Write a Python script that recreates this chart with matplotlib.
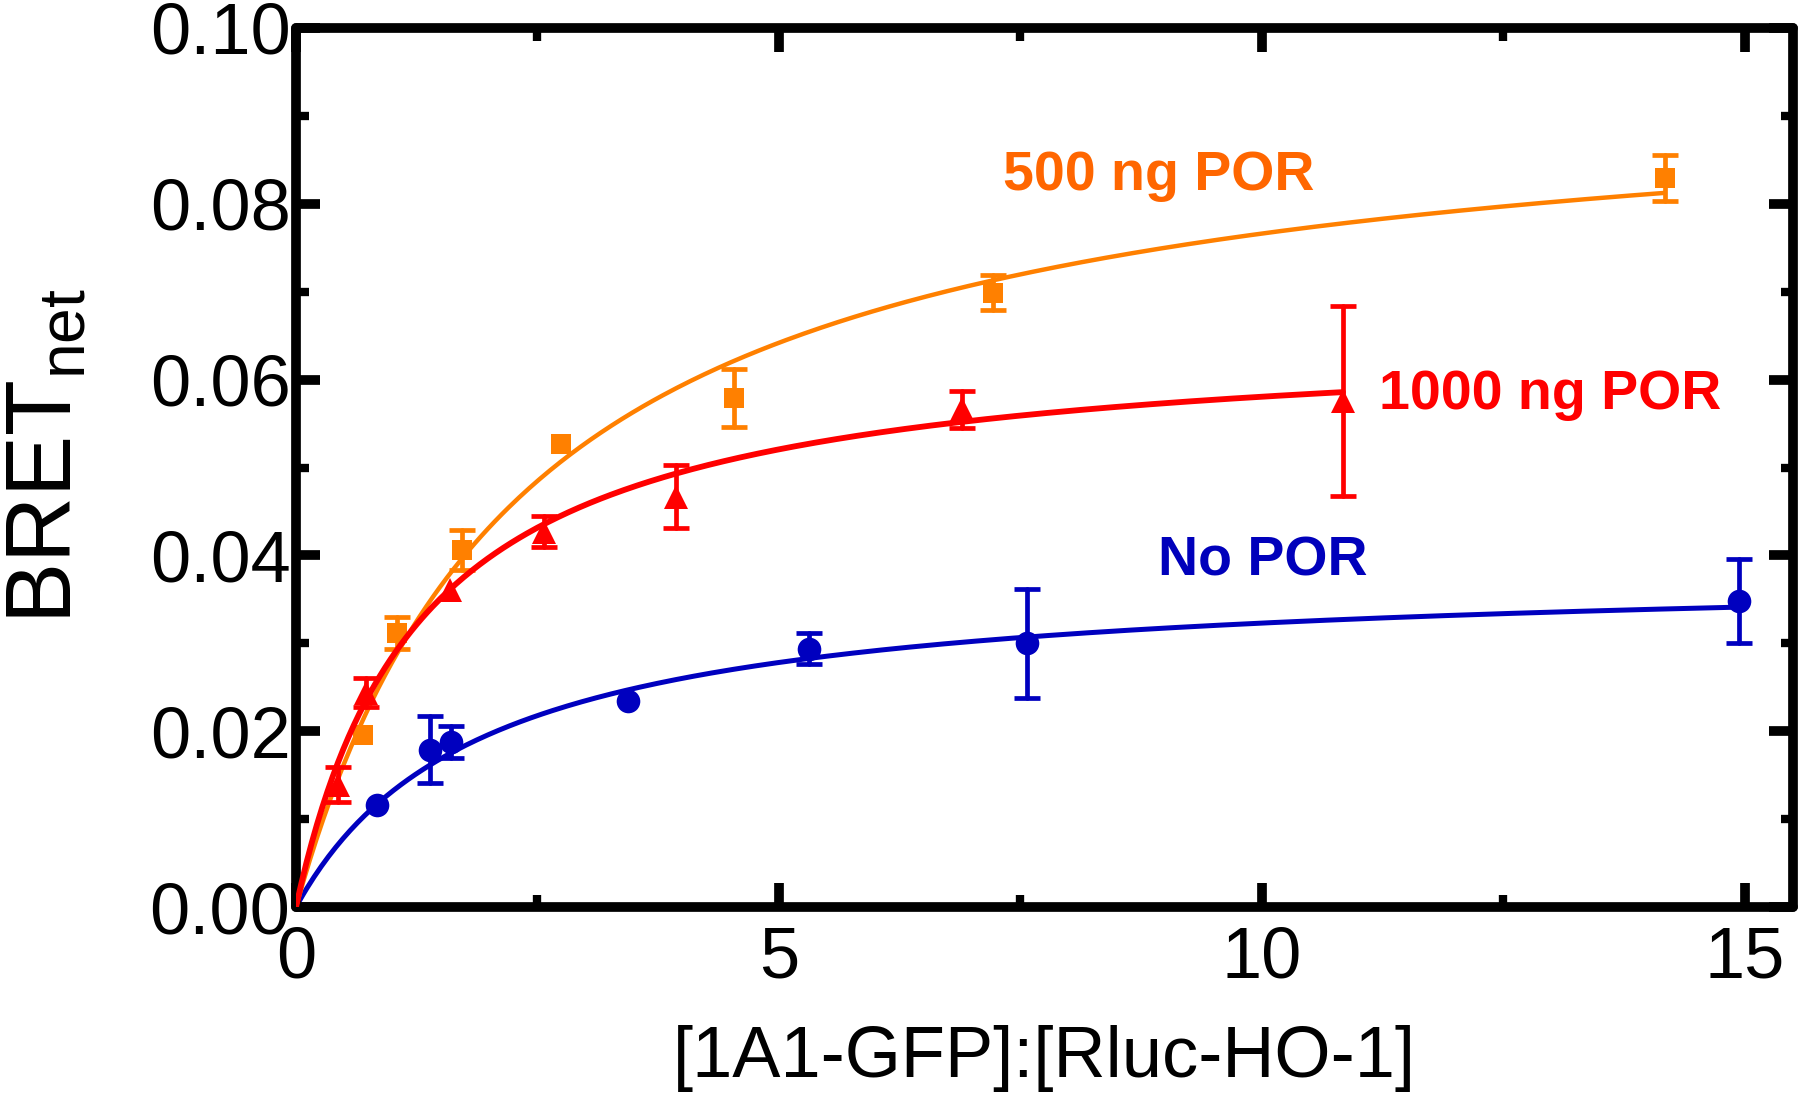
import matplotlib
matplotlib.use("Agg")
import matplotlib.pyplot as plt
import numpy as np

plt.rcParams['font.family'] = ['Liberation Sans', 'DejaVu Sans']
plt.rcParams['mathtext.fontset'] = 'custom'
plt.rcParams['mathtext.rm'] = 'Liberation Sans'
plt.rcParams['mathtext.it'] = 'Liberation Sans:italic'
plt.rcParams['mathtext.bf'] = 'Liberation Sans:bold'

# ---- data (None = error bar hidden by marker) ----
no_por_x = [0.835, 1.39, 1.60, 3.44, 5.31, 7.57, 14.94]
no_por_y = [0.0116, 0.0179, 0.0188, 0.0234, 0.0294, 0.0300, 0.0348]
no_por_err = [None, 0.0038, 0.0018, None, 0.0018, 0.0062, 0.0048]

por500_x = [0.69, 1.05, 1.72, 2.74, 4.53, 7.22, 14.17]
por500_y = [0.0196, 0.0312, 0.0406, 0.0527, 0.0579, 0.0699, 0.0829]
por500_err = [None, 0.0018, 0.0023, None, 0.0033, 0.0020, 0.0026]

por1000_x = [0.44, 0.725, 1.59, 2.57, 3.93, 6.90, 10.84]
por1000_y = [0.0139, 0.0244, 0.0361, 0.0427, 0.0467, 0.0566, 0.0576]
por1000_err = [0.0020, 0.0016, None, 0.0018, 0.0036, 0.0021, 0.0108]

# one-site saturation fit parameters (Bmax, Kd)
fit_bmax = [0.0385, 0.0950, 0.0656]
fit_kd = [1.92, 2.40, 1.30]

series_labels = ["No POR", "500 ng POR", "1000 ng POR"]
x_ticks = [0, 5, 10, 15]
y_ticks = [0.00, 0.02, 0.04, 0.06, 0.08, 0.10]

colors_line = ['#0000BF', '#FF8000', '#FF0000']
colors_text = ['#0000BB', '#FF6600', '#FF0000']
markers = ['o', 's', '^']
msizes = [17, 15, 17]
line_w = [3.6, 3.2, 4.2]
label_pos = [(8.93, 0.0377), (7.32, 0.0816), (11.21, 0.0566)]

fig = plt.figure(figsize=(18, 10.95), dpi=100)
ax = fig.add_axes([296/1800, 1 - 907/1095, (1793-296)/1800, (907-28)/1095])

data = [(no_por_x, no_por_y, no_por_err),
        (por500_x, por500_y, por500_err),
        (por1000_x, por1000_y, por1000_err)]

for i, (xs, ys, es) in enumerate(data):
    c = colors_line[i]
    xx = np.linspace(0, max(xs), 400)
    yy = fit_bmax[i] * xx / (fit_kd[i] + xx)
    ax.plot(xx, yy, color=c, lw=line_w[i], solid_capstyle='round', zorder=2 + i)
    idx = [k for k, e in enumerate(es) if e is not None]
    eb = ax.errorbar([xs[k] for k in idx], [ys[k] for k in idx],
                     yerr=[es[k] for k in idx], fmt='none', ecolor=c,
                     elinewidth=3.4, capsize=9.5, capthick=3.4, zorder=2.4 + i)
    for lc in eb[2]:
        lc.set_capstyle('round')
    ax.plot(xs, ys, linestyle='none', marker=markers[i], color=c, ms=msizes[i],
            mew=0, zorder=2.5 + i)
    ax.text(label_pos[i][0], label_pos[i][1], series_labels[i], color=colors_text[i],
            fontsize=40, fontweight='bold', ha='left', va='baseline')

ax.set_xlim(0, 15.5)
ax.set_ylim(0, 0.10)
ax.set_xticks(x_ticks)
ax.set_xticks([2.5, 7.5, 12.5], minor=True)
ax.set_yticks(y_ticks)
ax.set_yticks([0.01, 0.03, 0.05, 0.07, 0.09], minor=True)
ax.set_xticklabels([str(t) for t in x_ticks])
ax.set_yticklabels([f"{t:.2f}" for t in y_ticks])

ax.tick_params(which='both', direction='in', top=True, right=True, labelsize=52)
ax.tick_params(which='major', length=17, width=7)
ax.tick_params(which='minor', length=9, width=6)
ax.tick_params(axis='x', which='major', pad=13)
ax.tick_params(axis='y', which='major', pad=4)

for sp in ax.spines.values():
    sp.set_linewidth(7)
    sp.set_capstyle('round')
    sp.set_joinstyle('round')

ax.set_xlabel('[1A1-GFP]:[Rluc-HO-1]', fontsize=52, labelpad=24)
ax.set_ylabel(r'BRET$_{\mathrm{net}}$', fontsize=66)
ax.yaxis.set_label_coords(-0.137, 0.513)

fig.savefig('out.png', dpi=100)
